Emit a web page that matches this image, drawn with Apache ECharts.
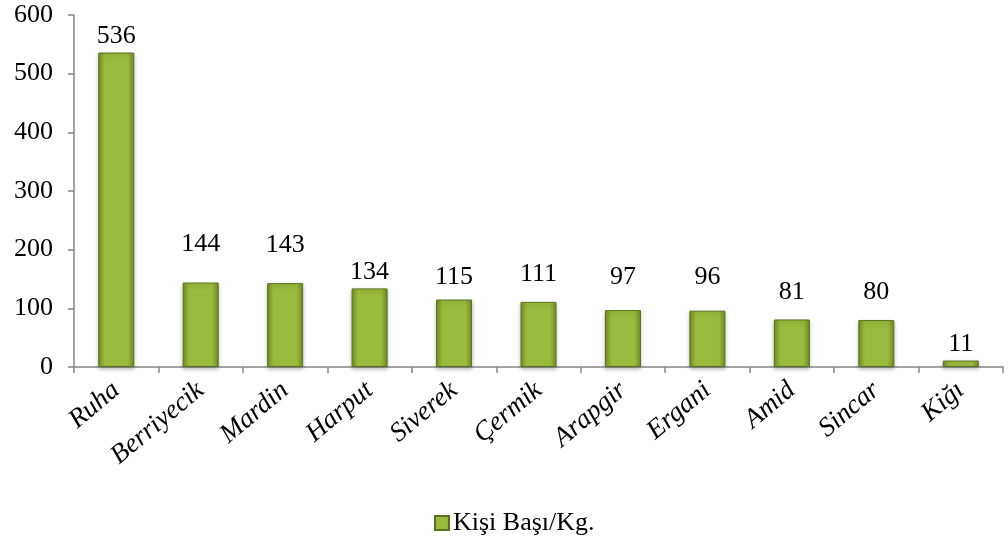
<!DOCTYPE html>
<html><head><meta charset="utf-8">
<script src="https://cdn.jsdelivr.net/npm/echarts@6/dist/echarts.min.js"></script>
<style>html,body{margin:0;padding:0;background:#fff}#c{width:1008px;height:543px}</style>
</head><body><div id="c"></div>
<script>
const categories = ['Ruha','Berriyecik','Mardin','Harput','Siverek','Çermik','Arapgir','Ergani','Amid','Sincar','Kiğı'];
const values = [536,144,143,134,115,111,97,96,81,80,11];
const seriesName = 'Kişi Başı/Kg.';
// extra lift (px) of each value label above its bar, as placed in the original
const labelLift = [0,22,22,0,6,12,17,18,11,12,0];
const font = "'Liberation Serif','Times New Roman',serif";
const chart = echarts.init(document.getElementById('c'));
const grad = new echarts.graphic.LinearGradient(0,0,1,0,[
  {offset:0,color:'#728f25'},{offset:0.18,color:'#9abb3d'},{offset:0.82,color:'#9abb3d'},{offset:1,color:'#728f25'}]);
const barData = values.map((v,i)=>({value:v,label:{distance:3+labelLift[i]}}));
chart.setOption({
  animation:false,
  grid:{left:74,right:5,top:15,bottom:176,containLabel:false},
  legend:{top:510,left:434,itemWidth:14,itemHeight:14,itemGap:6,padding:0,
    textStyle:{fontFamily:font,fontSize:26,color:'#000',padding:[0,0,0,-1]},
    data:[{name:seriesName,icon:'rect'}]},
  xAxis:{type:'category',data:categories,
    axisLine:{lineStyle:{color:'#868686',width:1.5}},
    axisTick:{show:true,alignWithLabel:false,length:6,lineStyle:{color:'#868686',width:1.5}},
    axisLabel:{rotate:40,fontFamily:font,fontStyle:'italic',fontSize:27,color:'#000',margin:20,interval:0}},
  yAxis:{type:'value',min:0,max:600,interval:100,
    splitLine:{show:false},
    axisLine:{show:true,lineStyle:{color:'#868686',width:1.5}},
    axisTick:{show:true,length:6,lineStyle:{color:'#868686',width:1.5}},
    axisLabel:{fontFamily:font,fontSize:26,color:'#000',margin:21}},
  series:[{name:seriesName,type:'bar',data:barData,barWidth:36,
    itemStyle:{color:grad,borderColor:'#5a7320',borderWidth:1,shadowColor:'rgba(0,0,0,0.25)',shadowBlur:4,shadowOffsetY:2},
    label:{show:true,position:'top',distance:3,fontFamily:font,fontSize:26,color:'#000'}}]
});
</script></body></html>
